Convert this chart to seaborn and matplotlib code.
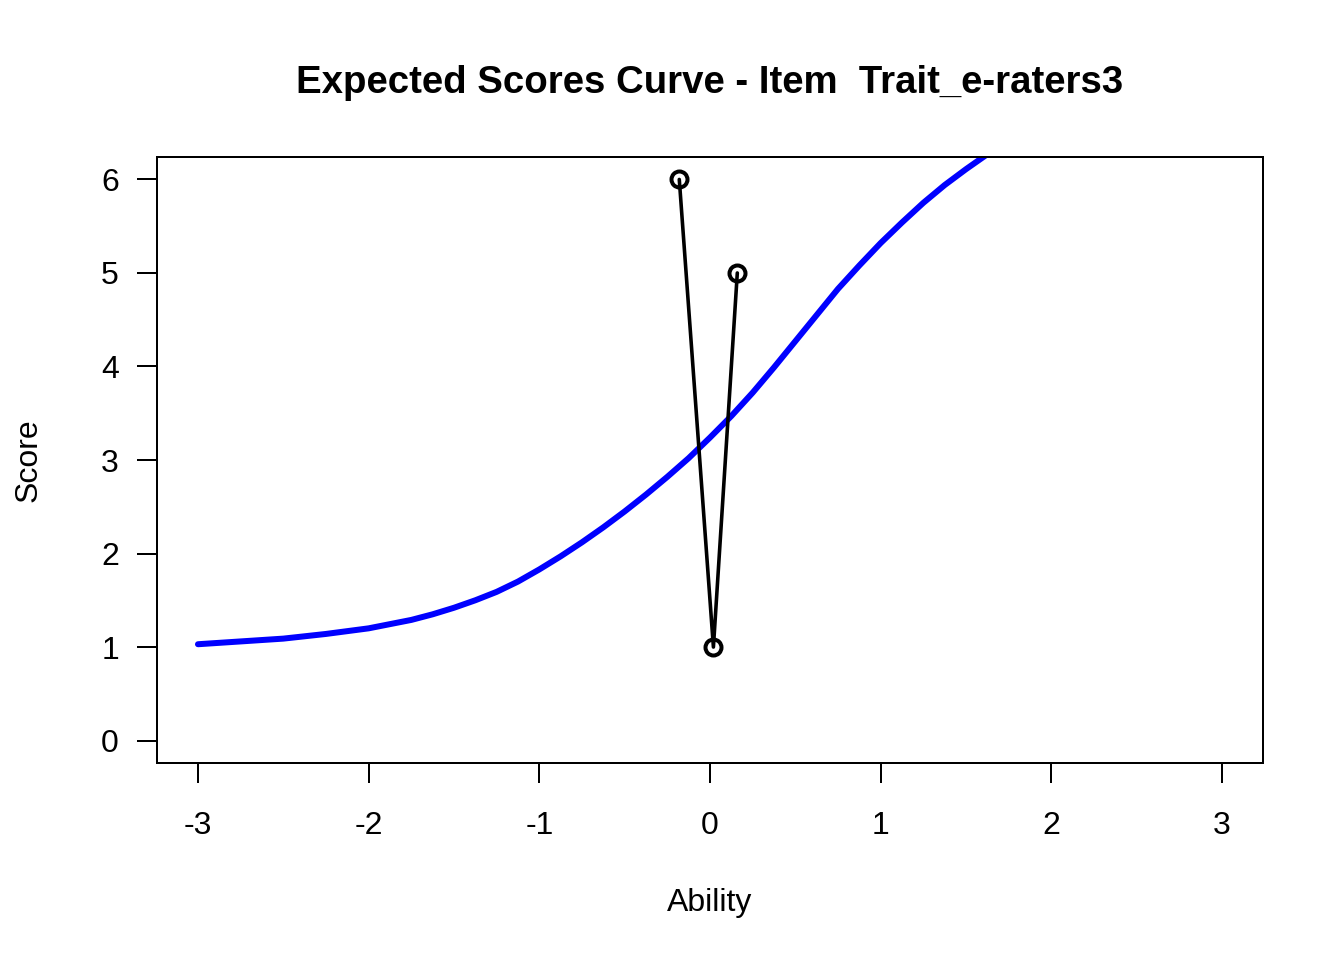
import matplotlib
matplotlib.use("Agg")
import matplotlib.pyplot as plt
import seaborn as sns
import pandas as pd

# expected score curve
ability = [-3.0, -2.75, -2.625, -2.5, -2.375, -2.25, -2.125, -2.0, -1.875, -1.75, -1.625,
           -1.5, -1.375, -1.25, -1.125, -1.0, -0.875, -0.75, -0.625, -0.5, -0.375, -0.25,
           -0.125, 0.0, 0.125, 0.25, 0.375, 0.5, 0.625, 0.75, 0.875, 1.0, 1.125, 1.25,
           1.375, 1.5, 1.625, 1.75, 2.0, 2.5, 3.0]
expected = [1.03, 1.06, 1.075, 1.09, 1.115, 1.14, 1.17, 1.20, 1.245, 1.29, 1.35,
            1.42, 1.50, 1.59, 1.70, 1.83, 1.97, 2.12, 2.28, 2.45, 2.63, 2.82,
            3.02, 3.24, 3.47, 3.72, 3.99, 4.27, 4.55, 4.83, 5.08, 5.32, 5.54, 5.75,
            5.94, 6.11, 6.27, 6.42, 6.64, 6.92, 7.06]

# observed scores
obs_ability = [-0.18, 0.02, 0.16]
obs_score = [6, 1, 5]

x_ticks = [-3, -2, -1, 0, 1, 2, 3]
y_ticks = [0, 1, 2, 3, 4, 5, 6]

curve = pd.DataFrame({"Ability": ability, "Score": expected})
obs = pd.DataFrame({"Ability": obs_ability, "Score": obs_score})

sns.set_theme(style="white")
plt.rcParams["font.family"] = ["Liberation Sans", "DejaVu Sans"]
plt.rcParams["text.color"] = "black"
plt.rcParams["axes.labelcolor"] = "black"
plt.rcParams["axes.unicode_minus"] = False

fig = plt.figure(figsize=(1344 / 144, 960 / 144), dpi=144)
ax = fig.add_axes([157 / 1344, 1 - 763 / 960, (1263 - 157) / 1344, (763 - 157) / 960])

sns.lineplot(data=curve, x="Ability", y="Score", ax=ax, color="#0000ff", linewidth=3, sort=True)
sns.lineplot(data=obs, x="Ability", y="Score", ax=ax, color="black", linewidth=1.8, sort=False,
             marker="o", markersize=8, markerfacecolor="none", markeredgecolor="black",
             markeredgewidth=2)

ax.set_xlim(-3.24, 3.24)
ax.set_ylim(-0.24, 6.24)
ax.set_xticks(x_ticks)
ax.set_yticks(y_ticks)

for s in ax.spines.values():
    s.set_visible(True)
    s.set_color("black")
    s.set_linewidth(1)

ax.tick_params(axis="both", which="both", direction="out", length=10, width=1,
               color="black", labelsize=16, labelcolor="black", bottom=True, left=True)
ax.tick_params(axis="x", pad=14)
ax.tick_params(axis="y", pad=9)

ax.set_xlabel("Ability", fontsize=16, labelpad=23.5, color="black")
ax.set_ylabel("Score", fontsize=16, labelpad=29, color="black")
ax.set_title("Expected Scores Curve - Item  Trait_e-raters3", fontsize=19.2,
             fontweight="bold", pad=32, color="black")

fig.savefig("out.png", dpi=144)
